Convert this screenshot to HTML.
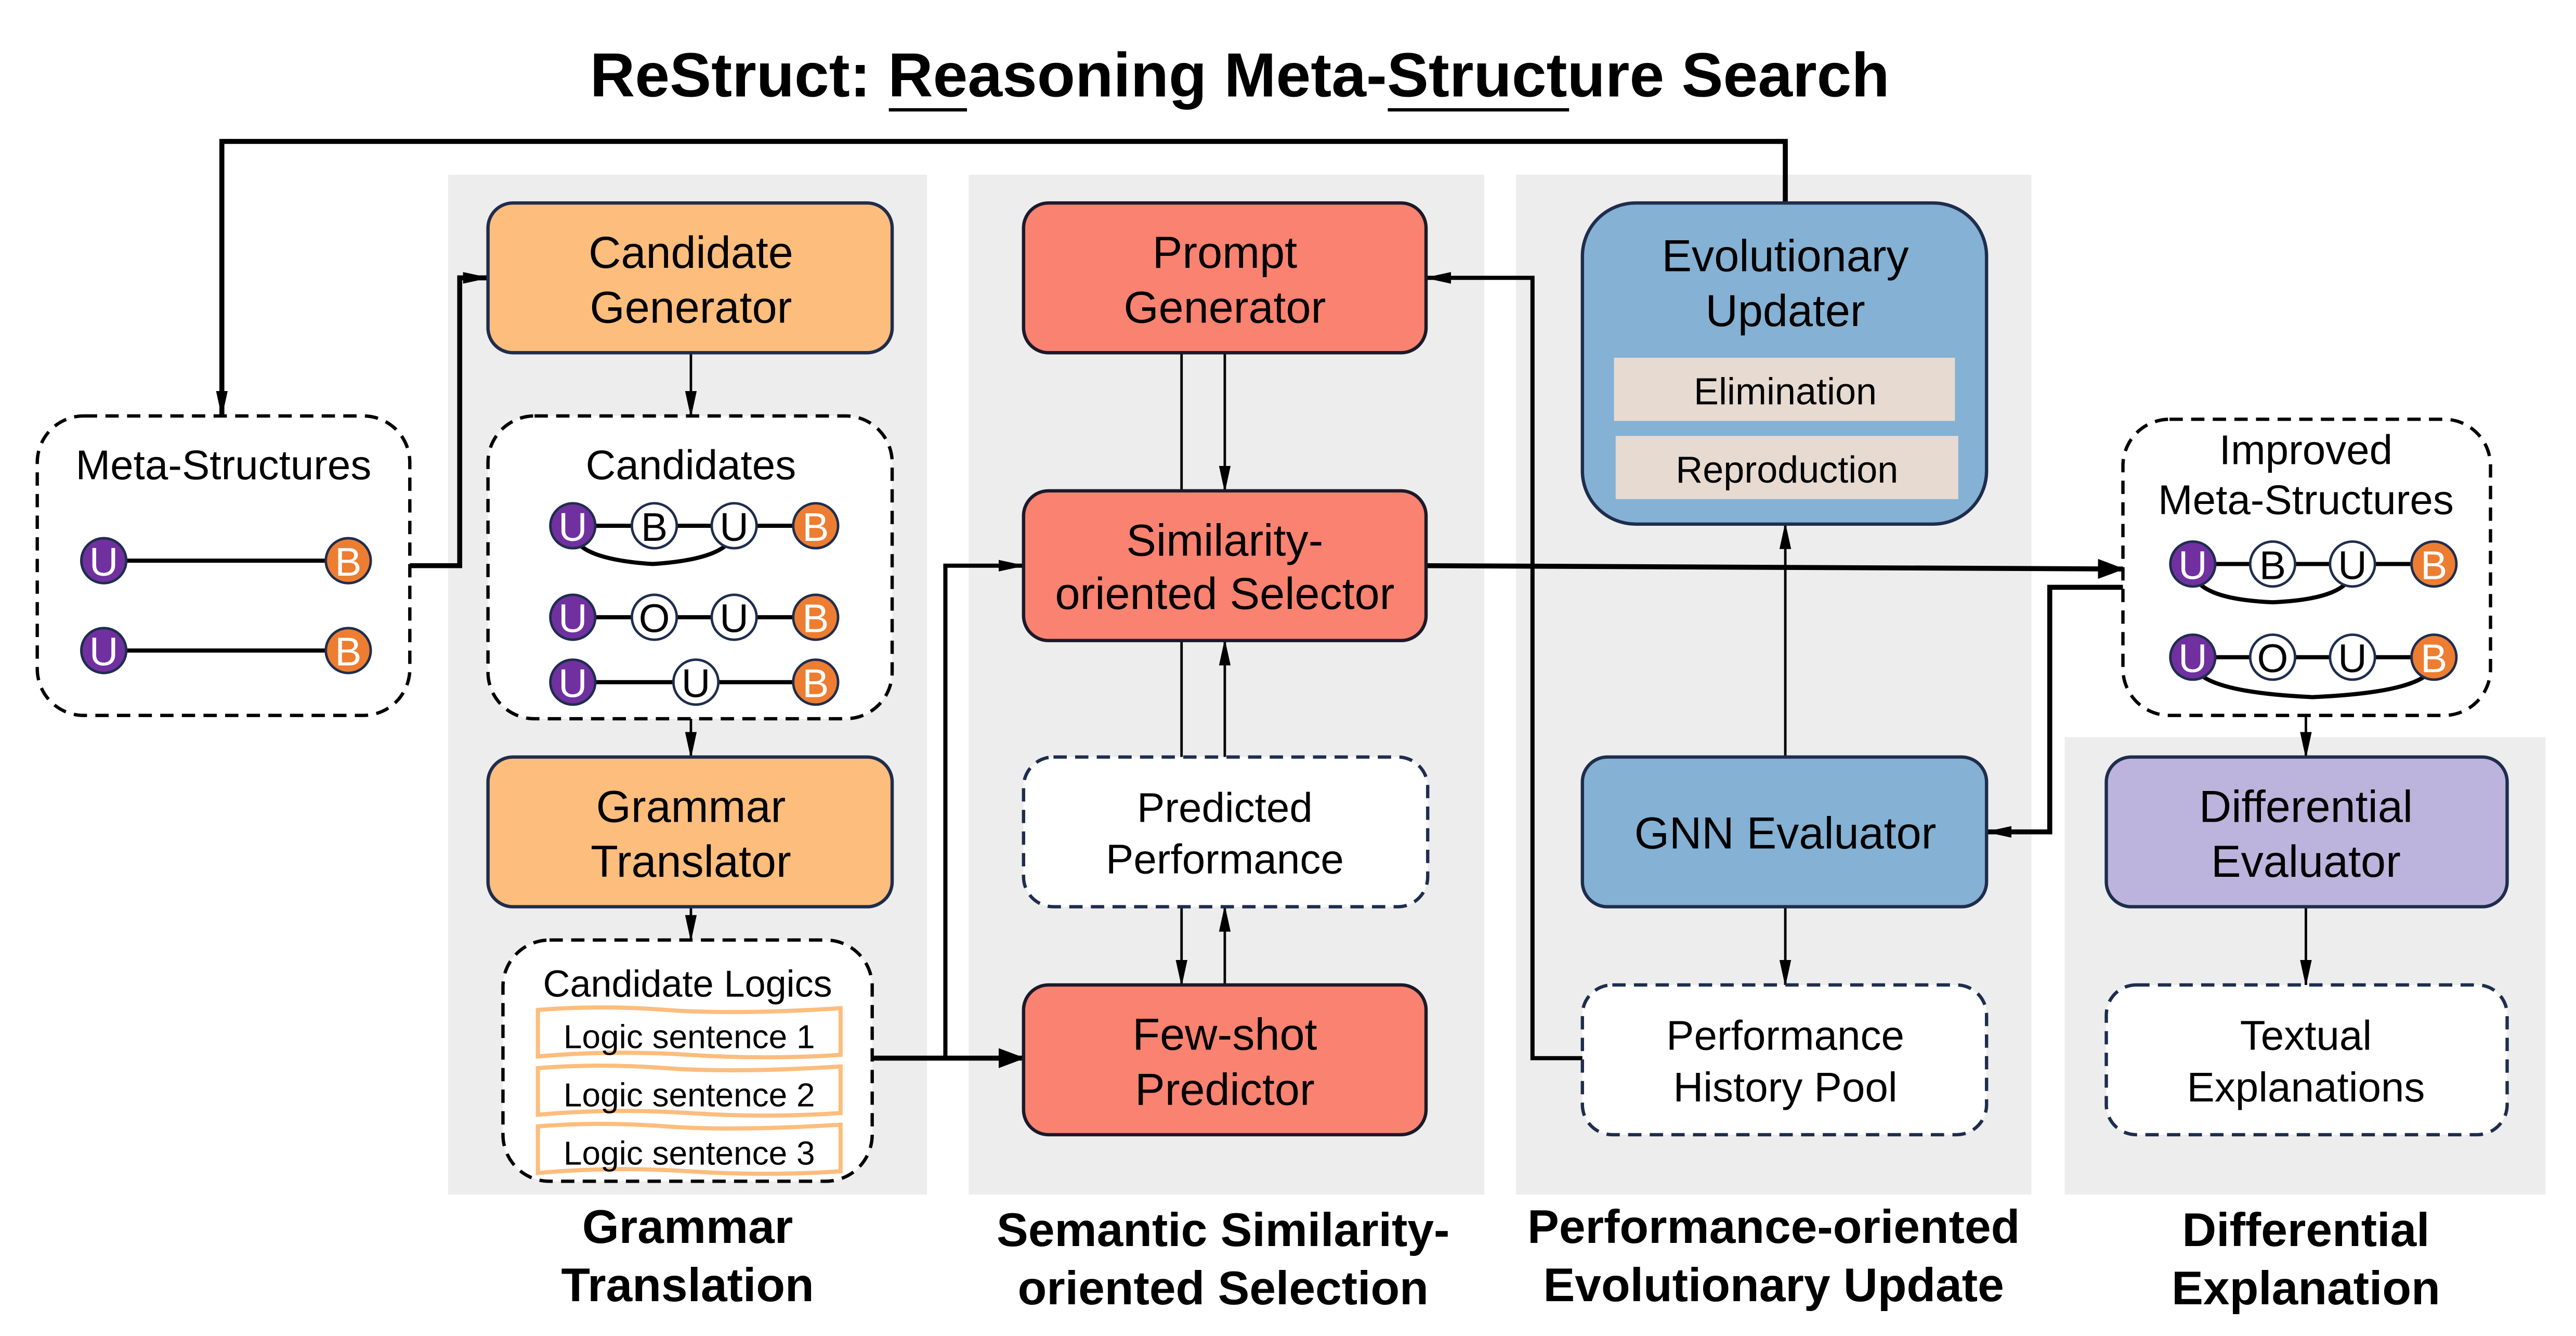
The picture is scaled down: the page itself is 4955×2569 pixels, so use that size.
<!DOCTYPE html>
<html><head><meta charset="utf-8"><style>
html,body{margin:0;padding:0;background:#fff;}
svg{display:block;}
text{font-family:"Liberation Sans",Arial,sans-serif;}
</style></head><body>
<svg width="4955" height="2569" viewBox="0 0 1548 803" xmlns="http://www.w3.org/2000/svg">
<defs>
<marker id="ah" markerUnits="userSpaceOnUse" markerWidth="16" markerHeight="12" refX="15" refY="6" orient="auto"><path d="M0,0 L16,6 L0,12 Z" fill="#000"/></marker>
<marker id="at" markerUnits="userSpaceOnUse" markerWidth="16" markerHeight="8" refX="15" refY="4" orient="auto"><path d="M0,0.5 L16,4 L0,7.5 Z" fill="#000"/></marker>
</defs>
<rect width="1548" height="803" fill="#fff"/>
<rect x="269" y="105" width="288" height="613" fill="#ededed"/>
<rect x="582" y="105" width="310" height="613" fill="#ededed"/>
<rect x="911" y="105" width="310" height="613" fill="#ededed"/>
<rect x="1241" y="443" width="289" height="275" fill="#ededed"/>

<text x="745" y="58" font-size="37.5" font-weight="bold" text-anchor="middle">ReStruct: Reasoning Meta-Structure Search</text>
<line x1="534" y1="66" x2="581" y2="66" stroke="#000" stroke-width="2"/>
<line x1="834" y1="66" x2="943" y2="66" stroke="#000" stroke-width="2"/>

<g fill="none" stroke="#000">
<path d="M1073,122 V85 H133 V250" stroke-width="3" marker-end="url(#at)"/>
<path d="M246,340 H276 V167 H293" stroke-width="3" marker-end="url(#at)"/>
<path d="M415,212 V250" stroke-width="1.5" marker-end="url(#at)"/>
<path d="M415,432 V455" stroke-width="1.5" marker-end="url(#at)"/>
<path d="M415,545 V565" stroke-width="1.5" marker-end="url(#at)"/>
<path d="M524,636 H615" stroke-width="3" marker-end="url(#ah)"/>
<path d="M568,636 V340 H615" stroke-width="2.5" marker-end="url(#at)"/>
<path d="M710,212 V295" stroke-width="1.5"/>
<path d="M736,212 V295" stroke-width="1.5" marker-end="url(#at)"/>
<path d="M710,385 V455" stroke-width="1.5"/>
<path d="M736,455 V385" stroke-width="1.5" marker-end="url(#at)"/>
<path d="M710,545 V592" stroke-width="1.5" marker-end="url(#at)"/>
<path d="M736,592 V545" stroke-width="1.5" marker-end="url(#at)"/>
<path d="M951,636 H921 V167 H857" stroke-width="2.5" marker-end="url(#at)"/>
<path d="M857,340 L1276,342" stroke-width="3" marker-end="url(#ah)"/>
<path d="M1276,353 H1232 V500 H1194" stroke-width="3" marker-end="url(#at)"/>
<path d="M1073,455 V315" stroke-width="1.5" marker-end="url(#at)"/>
<path d="M1073,545 V592" stroke-width="1.5" marker-end="url(#at)"/>
<path d="M1386,430 V455" stroke-width="1.5" marker-end="url(#at)"/>
<path d="M1386,545 V592" stroke-width="1.5" marker-end="url(#at)"/>
</g>

<g fill="#fff" stroke-width="2" stroke-dasharray="8,5">
<rect x="22" y="250" width="224" height="180" rx="28" stroke="#000"/>
<rect x="293" y="250" width="243" height="182" rx="28" stroke="#000"/>
<rect x="302" y="565" width="222" height="145" rx="28" stroke="#000"/>
<rect x="615" y="455" width="243" height="90" rx="18" stroke="#1f2d4d"/>
<rect x="951" y="592" width="243" height="90" rx="18" stroke="#1f2d4d"/>
<rect x="1276" y="252" width="221" height="178" rx="28" stroke="#000"/>
<rect x="1266" y="592" width="241" height="90" rx="18" stroke="#1f2d4d"/>
</g>

<g stroke-width="2">
<rect x="293" y="122" width="243" height="90" rx="15" fill="#fdbd7d" stroke="#1f2d4d"/>
<rect x="293" y="455" width="243" height="90" rx="15" fill="#fdbd7d" stroke="#1f2d4d"/>
<rect x="615" y="122" width="242" height="90" rx="15" fill="#f98270" stroke="#1a1a2a"/>
<rect x="615" y="295" width="242" height="90" rx="15" fill="#f98270" stroke="#1a1a2a"/>
<rect x="615" y="592" width="242" height="90" rx="15" fill="#f98270" stroke="#1a1a2a"/>
<rect x="951" y="122" width="243" height="193" rx="32" fill="#84b1d4" stroke="#1f2d4d"/>
<rect x="951" y="455" width="243" height="90" rx="15" fill="#84b1d4" stroke="#1f2d4d"/>
<rect x="1266" y="455" width="241" height="90" rx="15" fill="#bcb4dc" stroke="#1f2d4d"/>
</g>
<rect x="970" y="215" width="205" height="38" fill="#e7dad0"/>
<rect x="971" y="262" width="206" height="38" fill="#e7dad0"/>

<g fill="#fff" stroke="#fdbd7d" stroke-width="2.5">
<path d="M323,607 Q360,604 400,607 T505,606 L505,634 Q460,637 414,634 T323,635 Z"/>
<path d="M323,642 Q360,639 400,642 T505,641 L505,669 Q460,672 414,669 T323,670 Z"/>
<path d="M323,677 Q360,674 400,677 T505,676 L505,704 Q460,707 414,704 T323,705 Z"/>
</g>

<g font-size="27" text-anchor="middle" fill="#000">
<text x="415" y="161">Candidate</text><text x="415" y="194">Generator</text>
<text x="415" y="494">Grammar</text><text x="415" y="527">Translator</text>
<text x="736" y="161">Prompt</text><text x="736" y="194">Generator</text>
<text x="736" y="334">Similarity-</text><text x="736" y="366">oriented Selector</text>
<text x="736" y="631">Few-shot</text><text x="736" y="664">Predictor</text>
<text x="1073" y="163">Evolutionary</text><text x="1073" y="196">Updater</text>
<text x="1073" y="510">GNN Evaluator</text>
<text x="1386" y="494">Differential</text><text x="1386" y="527">Evaluator</text>
</g>
<g font-size="25" text-anchor="middle" fill="#000">
<text x="736" y="494">Predicted</text><text x="736" y="525">Performance</text>
<text x="1073" y="631">Performance</text><text x="1073" y="662">History Pool</text>
<text x="1386" y="631">Textual</text><text x="1386" y="662">Explanations</text>
<text x="134" y="288">Meta-Structures</text>
<text x="415" y="288">Candidates</text>
<text x="1386" y="279">Improved</text><text x="1386" y="309">Meta-Structures</text>
</g>
<g font-size="22.5" text-anchor="middle" fill="#000">
<text x="1073" y="243">Elimination</text>
<text x="1074" y="290">Reproduction</text>
<text x="413" y="599">Candidate Logics</text>
</g>
<g font-size="20" text-anchor="middle" fill="#000">
<text x="414" y="630">Logic sentence 1</text>
<text x="414" y="665">Logic sentence 2</text>
<text x="414" y="700">Logic sentence 3</text>
</g>

<g font-size="28.5" font-weight="bold" text-anchor="middle" fill="#000">
<text x="413" y="747">Grammar</text><text x="413" y="782">Translation</text>
<text x="735" y="749">Semantic Similarity-</text><text x="735" y="784">oriented Selection</text>
<text x="1066" y="747">Performance-oriented</text><text x="1066" y="782">Evolutionary Update</text>
<text x="1386" y="749">Differential</text><text x="1386" y="784">Explanation</text>
</g>

<g fill="none" stroke="#000" stroke-width="2.5">
<line x1="62" y1="337" x2="209" y2="337"/>
<line x1="62" y1="391" x2="209" y2="391"/>
<line x1="344" y1="316" x2="490" y2="316"/>
<path d="M344,320 Q346,336 392,339 Q438,336 441,320"/>
<line x1="344" y1="371" x2="490" y2="371"/>
<line x1="344" y1="410" x2="490" y2="410"/>
<line x1="1318" y1="339" x2="1463" y2="339"/>
<path d="M1318,343 Q1320,360 1366,362 Q1412,360 1414,343"/>
<line x1="1318" y1="395" x2="1463" y2="395"/>
<path d="M1318,399 Q1322,416 1390,419 Q1460,416 1463,399"/>
</g>

<g stroke="#1f2d4d" stroke-width="1.5" font-size="24" text-anchor="middle">
<g>
<circle cx="62" cy="337" r="13.5" fill="#7030a0"/><circle cx="209" cy="337" r="13.5" fill="#ed7d31"/>
<circle cx="62" cy="391" r="13.5" fill="#7030a0"/><circle cx="209" cy="391" r="13.5" fill="#ed7d31"/>
<circle cx="344" cy="316" r="13.5" fill="#7030a0"/><circle cx="393" cy="316" r="13.5" fill="#fff"/><circle cx="441" cy="316" r="13.5" fill="#fff"/><circle cx="490" cy="316" r="13.5" fill="#ed7d31"/>
<circle cx="344" cy="371" r="13.5" fill="#7030a0"/><circle cx="393" cy="371" r="13.5" fill="#fff"/><circle cx="441" cy="371" r="13.5" fill="#fff"/><circle cx="490" cy="371" r="13.5" fill="#ed7d31"/>
<circle cx="344" cy="410" r="13.5" fill="#7030a0"/><circle cx="418" cy="410" r="13.5" fill="#fff"/><circle cx="490" cy="410" r="13.5" fill="#ed7d31"/>
<circle cx="1318" cy="339" r="13.5" fill="#7030a0"/><circle cx="1366" cy="339" r="13.5" fill="#fff"/><circle cx="1414" cy="339" r="13.5" fill="#fff"/><circle cx="1463" cy="339" r="13.5" fill="#ed7d31"/>
<circle cx="1318" cy="395" r="13.5" fill="#7030a0"/><circle cx="1366" cy="395" r="13.5" fill="#fff"/><circle cx="1414" cy="395" r="13.5" fill="#fff"/><circle cx="1463" cy="395" r="13.5" fill="#ed7d31"/>
</g>
<g stroke="none">
<g fill="#fff">
<text x="62" y="346">U</text><text x="209" y="346">B</text>
<text x="62" y="400">U</text><text x="209" y="400">B</text>
<text x="344" y="325">U</text><text x="490" y="325">B</text>
<text x="344" y="380">U</text><text x="490" y="380">B</text>
<text x="344" y="419">U</text><text x="490" y="419">B</text>
<text x="1318" y="348">U</text><text x="1463" y="348">B</text>
<text x="1318" y="404">U</text><text x="1463" y="404">B</text>
</g>
<g fill="#000">
<text x="393" y="325">B</text><text x="441" y="325">U</text>
<text x="393" y="380">O</text><text x="441" y="380">U</text>
<text x="418" y="419">U</text>
<text x="1366" y="348">B</text><text x="1414" y="348">U</text>
<text x="1366" y="404">O</text><text x="1414" y="404">U</text>
</g>
</g>
</g>
</svg>
</body></html>
